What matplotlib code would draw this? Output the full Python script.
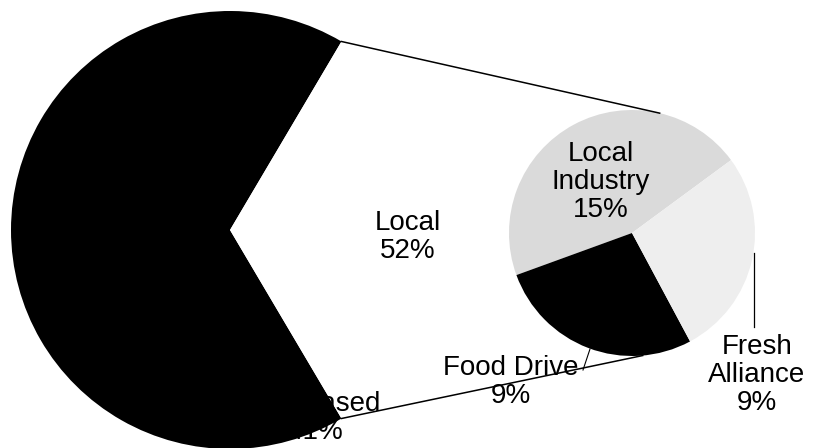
import numpy as np
import matplotlib
matplotlib.use('Agg')
import matplotlib.pyplot as plt

plt.rcParams['font.family'] = ['Liberation Sans', 'DejaVu Sans']

# main pie: Purchased vs. Local (Local is split out in the second pie)
main_labels = ['Purchased', 'Local']
main_values = [67, 33]
main_pct = ['41%', '52%']

# second pie: breakdown of Local
sub_labels = ['Local\nIndustry', 'Food Drive', 'Fresh\nAlliance']
sub_values = [15, 9, 9]
sub_pct = ['15%', '9%', '9%']

W, H = 823, 448
fig = plt.figure(figsize=(W / 100, H / 100), dpi=100)
ax = fig.add_axes([0, 0, 1, 1])

# geometry in pixel units (y up)
c1 = (230, H - 230); r1 = 219
c2 = (632, H - 233); r2 = 123

# main pie, Local wedge centered on the right
start1 = 360 * main_values[1] / sum(main_values) / 2
ax.pie(main_values, colors=['black', 'white'], startangle=start1, center=c1,
       radius=r1, wedgeprops=dict(linewidth=0), frame=False)

# second pie, Food Drive at lower left
start2 = 200 - 360 * sub_values[0] / sum(sub_values)
ax.pie(sub_values, colors=['#dadada', 'black', '#eeeeee'], startangle=start2,
       center=c2, radius=r2, wedgeprops=dict(linewidth=0), frame=False)

# connector lines
for a_main, a_sub in [(start1, 77), (-start1, -85)]:
    p = (c1[0] + r1 * np.cos(np.radians(a_main)), c1[1] + r1 * np.sin(np.radians(a_main)))
    q = (c2[0] + r2 * np.cos(np.radians(a_sub)), c2[1] + r2 * np.sin(np.radians(a_sub)))
    ax.plot([p[0], q[0]], [p[1], q[1]], color='black', lw=1.1)

# leader lines
ax.plot([590, 583], [H - 349, H - 370], color='black', lw=0.8)
ax.plot([754, 754], [H - 253, H - 327], color='black', lw=0.9)

fs = 20
kw = dict(ha='center', va='center', fontsize=fs, linespacing=1.1)
ax.text(408, H - 237, f'{main_labels[1]}\n{main_pct[1]}', **kw)
ax.text(315, H - 418, f'{main_labels[0]}\n{main_pct[0]}', **kw)
ax.text(601, H - 182, f'{sub_labels[0]}\n{sub_pct[0]}', **kw)
ax.text(511, H - 382, f'{sub_labels[1]}\n{sub_pct[1]}', **kw)
ax.text(757, H - 375, f'{sub_labels[2]}\n{sub_pct[2]}', **kw)

ax.set_xlim(0, W)
ax.set_ylim(0, H)
ax.set_aspect('equal')
ax.axis('off')

fig.savefig('out.png', dpi=100)
